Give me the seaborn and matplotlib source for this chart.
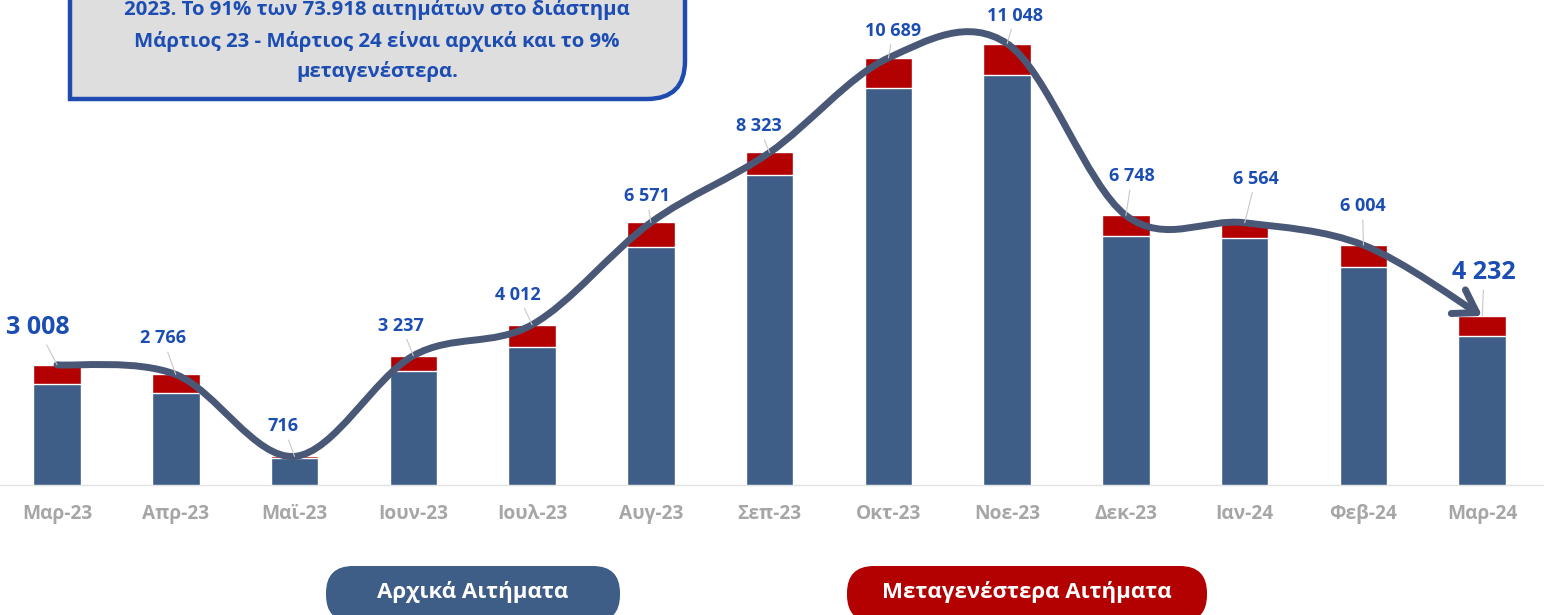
import numpy as np
import pandas as pd
import matplotlib
matplotlib.use("Agg")
import matplotlib.pyplot as plt
from matplotlib.path import Path
from matplotlib.patches import PathPatch, FancyBboxPatch, FancyArrowPatch
import seaborn as sns

# Δεδομένα (διαβασμένα από το γράφημα)
months = ["Μαρ-23", "Απρ-23", "Μαϊ-23", "Ιουν-23", "Ιουλ-23", "Αυγ-23", "Σεπ-23",
          "Οκτ-23", "Νοε-23", "Δεκ-23", "Ιαν-24", "Φεβ-24", "Μαρ-24"]
totals = [3008, 2766, 716, 3237, 4012, 6571, 8323, 10689, 11048, 6748, 6564, 6004, 4232]
later = [470, 460, 40, 390, 570, 620, 570, 750, 780, 520, 390, 550, 500]
initial = [t - l for t, l in zip(totals, later)]
total_labels = [f"{v:,}".replace(",", " ") for v in totals]

note_lines = ["2023. Το 91% των 73.918 αιτημάτων στο διάστημα",
              "Μάρτιος 23 - Μάρτιος 24 είναι αρχικά και το 9%",
              "μεταγενέστερα."]
legend_names = ["Αρχικά Αιτήματα", "Μεταγενέστερα Αιτήματα"]

# θέσεις ετικετών (pixels σε σχέση με την κορυφή της στήλης)
label_offsets = [(-19, -37), (-13, -36), (-11, -30), (-12, -30), (-14, -30), (-4, -26),
                 (-11, -26), (5, -27), (8, -28), (6, -39), (11, -44), (-1, -39), (2, -43)]
big_labels = {0, len(totals) - 1}

BLUE = "#3F5E87"
RED = "#B30000"
LINE = "#4A5878"
TXT_BLUE = "#1B4DB3"
GREY = "#A6A6A6"

sns.set_style("white")
plt.rcParams["font.family"] = ["Open Sans", "DejaVu Sans"]
plt.rcParams["font.weight"] = "bold"

df = pd.DataFrame({"month": months, "total": totals, "initial": initial})

fig = plt.figure(figsize=(15.44, 6.15), dpi=100)
ax = fig.add_axes([0, 130 / 615, 1, 485 / 615])

sns.barplot(data=df, x="month", y="total", color=RED, saturation=1, width=0.4, ax=ax, zorder=2)
sns.barplot(data=df, x="month", y="initial", color=BLUE, saturation=1, width=0.4, ax=ax, zorder=3)

ax.set_xlim(-0.48, 12.52)
ax.set_ylim(0, 12140)
ax.set_xlabel("")
ax.set_ylabel("")
ax.set_yticks([])
sns.despine(ax=ax, left=True)
ax.spines["bottom"].set_color("#E3E3E3")
ax.spines["bottom"].set_linewidth(1)
ax.tick_params(axis="x", which="major", length=0, pad=14, labelsize=13.8, labelcolor=GREY)
ax.set_xticks(np.arange(len(months)) + 0.5, minor=True)
ax.tick_params(axis="x", which="minor", length=6, color="#E3E3E3", width=1)
for t in ax.get_xticklabels():
    t.set_fontweight("bold")

# ομαλή γραμμή (Catmull-Rom -> Bezier) με βέλος στο τέλος
xs = np.arange(len(totals), dtype=float)
ys = np.array(totals, dtype=float)
px = np.concatenate([[xs[0]], xs, [xs[-1]]])
py = np.concatenate([[ys[0]], ys, [ys[-1]]])
verts = [(xs[0], ys[0])]
codes = [Path.MOVETO]
for i in range(1, len(xs)):
    c1 = (px[i] + (px[i + 1] - px[i - 1]) / 6, py[i] + (py[i + 1] - py[i - 1]) / 6)
    c2 = (px[i + 1] - (px[i + 2] - px[i]) / 6, py[i + 1] - (py[i + 2] - py[i]) / 6)
    verts += [c1, c2, (px[i + 1], py[i + 1])]
    codes += [Path.CURVE4] * 3
curve = FancyArrowPatch(path=Path(verts, codes), arrowstyle="->,head_length=0.7,head_width=0.45",
                        mutation_scale=22, lw=5, color=LINE, zorder=5,
                        capstyle="round", joinstyle="round")
ax.add_patch(curve)

# ετικέτες τιμών
for i, (lab, (dx, dy)) in enumerate(zip(total_labels, label_offsets)):
    ax.annotate(lab, xy=(i, totals[i]), xytext=(dx, -dy), textcoords="offset pixels",
                ha="center", va="center", color=TXT_BLUE, fontweight="bold",
                fontsize=18 if i in big_labels else 13, zorder=6,
                arrowprops=dict(arrowstyle="-", color="#C8C8C8", lw=0.8, shrinkA=1, shrinkB=0))

# επικάλυψη σε pixels για πλαίσιο σημείωσης και υπόμνημα
deco = fig.add_axes([0, 0, 1, 1], zorder=10)
deco.set_xlim(0, 1544)
deco.set_ylim(615, 0)
deco.axis("off")

r = 38
box = Path([(70, -30), (70, 99), (685 - r, 99), (685, 99), (685, 99 - r), (685, -30), (70, -30)],
           [Path.MOVETO, Path.LINETO, Path.LINETO, Path.CURVE3, Path.CURVE3, Path.LINETO, Path.CLOSEPOLY])
deco.add_patch(PathPatch(box, facecolor="#DEDEDE", edgecolor="#1F4BB0", lw=3.2))
for line, y in zip(note_lines, [10, 41, 71]):
    deco.text(377, y, line, ha="center", va="center", color=TXT_BLUE,
              fontsize=14.7, fontweight="bold")

pills = [(326, 620, BLUE), (847, 1207, RED)]
for name, (x0, x1, c) in zip(legend_names, pills):
    deco.add_patch(FancyBboxPatch((x0, 566), x1 - x0, 56,
                                  boxstyle="round,pad=0,rounding_size=27",
                                  facecolor=c, edgecolor="none"))
    deco.text((x0 + x1) / 2, 592, name, ha="center", va="center", color="white",
              fontsize=16, fontweight="bold")

fig.savefig("out.png", dpi=100)
